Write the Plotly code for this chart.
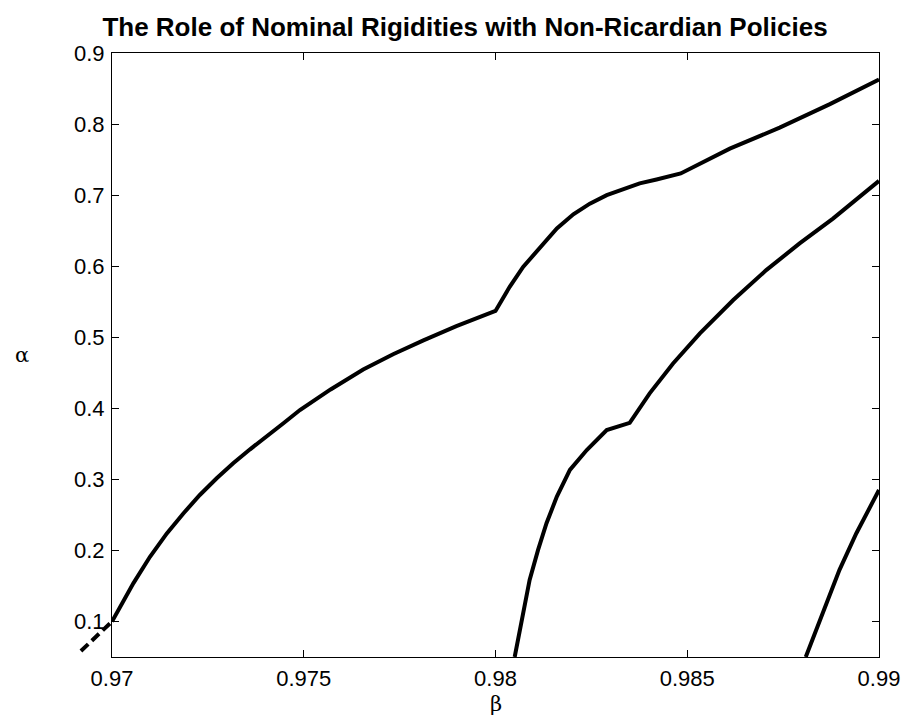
import plotly.graph_objects as go

# ---- data ----
beta_1 = [0.97, 0.97056, 0.97099, 0.97143, 0.97186, 0.97229, 0.97273, 0.97316, 0.97360,
          0.97403, 0.97447, 0.97490, 0.97570, 0.97655, 0.97733, 0.97812, 0.97898, 0.98000,
          0.98037, 0.98072, 0.98116, 0.98160, 0.98203, 0.98246, 0.98290, 0.98333,
          0.98376, 0.98420, 0.98483, 0.98611, 0.98741, 0.98872, 0.99000]
alpha_1 = [0.100, 0.154, 0.191, 0.224, 0.252, 0.278, 0.3015, 0.3226, 0.3423,
           0.360, 0.379, 0.3976, 0.4265, 0.4545, 0.476, 0.4955, 0.5155, 0.537,
           0.571, 0.599, 0.627, 0.653, 0.673, 0.688, 0.700, 0.709,
           0.7165, 0.722, 0.7305, 0.7654, 0.795, 0.828, 0.8627]

beta_2 = [0.98050, 0.98072, 0.98089, 0.98111, 0.98133, 0.98160, 0.98194, 0.98238,
          0.98290, 0.98350, 0.98402, 0.98463, 0.98533, 0.98620, 0.98706, 0.98793,
          0.98880, 0.99000]
alpha_2 = [0.050, 0.1117, 0.1585, 0.2007, 0.2383, 0.2757, 0.3132, 0.3413,
           0.3695, 0.3795, 0.421, 0.463, 0.5055, 0.5523, 0.5945, 0.632,
           0.667, 0.720]

beta_3 = [0.98809, 0.98854, 0.98897, 0.98941, 0.99000]
alpha_3 = [0.050, 0.1117, 0.1726, 0.2242, 0.285]

beta_dash = [0.96919, 0.97000]
alpha_dash = [0.0584, 0.100]

x_ticks = [0.97, 0.975, 0.98, 0.985, 0.99]
x_tick_labels = ["0.97", "0.975", "0.98", "0.985", "0.99"]
y_ticks = [0.1, 0.2, 0.3, 0.4, 0.5, 0.6, 0.7, 0.8, 0.9]
y_tick_labels = ["0.1", "0.2", "0.3", "0.4", "0.5", "0.6", "0.7", "0.8", "0.9"]

title_text = "The Role of Nominal Rigidities with Non-Ricardian Policies"
x_label = "β"
y_label = "α"

# ---- layout geometry ----
W, H = 903, 719
ML, MR, MT, MB = 60, 24, 53, 62
plot_w = W - ML - MR
plot_h = H - MT - MB
axis_left_px = 112
x_dom_start = (axis_left_px - ML) / plot_w
x_range = [0.97, 0.99]
# second axis spanning a wider domain with the same scale (for the unclipped dashed piece)
x2_low = x_range[1] - (x_range[1] - x_range[0]) / (1 - x_dom_start)

line_style = dict(color="black", width=4)
tick_font = dict(family="Liberation Sans, Arial, sans-serif", size=22, color="black")
greek_font = dict(family="DejaVu Serif, serif", size=21, color="black")

fig = go.Figure()
fig.add_trace(go.Scatter(x=beta_dash, y=alpha_dash, mode="lines", xaxis="x2", yaxis="y",
                         line=dict(color="black", width=4, dash="10px,5px"), showlegend=False))
fig.add_trace(go.Scatter(x=beta_1, y=alpha_1, mode="lines", line=line_style, showlegend=False))
fig.add_trace(go.Scatter(x=beta_2, y=alpha_2, mode="lines", line=line_style, showlegend=False))
fig.add_trace(go.Scatter(x=beta_3, y=alpha_3, mode="lines", line=line_style, showlegend=False))

axis_common = dict(showline=True, linecolor="black", linewidth=1, mirror="ticks",
                   ticks="inside", ticklen=7, tickcolor="black", tickwidth=1,
                   showgrid=False, zeroline=False, tickfont=tick_font, automargin=False)

fig.update_layout(
    template="none",
    width=W, height=H,
    margin=dict(l=ML, r=MR, t=MT, b=MB, autoexpand=False),
    paper_bgcolor="white", plot_bgcolor="rgba(0,0,0,0)",
    title=dict(text="<b>" + title_text + "</b>", x=465 / W, xanchor="center",
               y=1 - 27 / H, yanchor="middle",
               font=dict(family="Liberation Sans, Arial, sans-serif", size=26, color="black")),
    xaxis=dict(domain=[x_dom_start, 1], range=x_range, tickvals=x_ticks, ticktext=x_tick_labels,
               ticklabelstandoff=2, **axis_common),
    yaxis=dict(domain=[0, 1], range=[0.05, 0.9], tickvals=y_ticks, ticktext=y_tick_labels,
               ticklabelstandoff=2, anchor="x", **axis_common),
    xaxis2=dict(domain=[0, 1], range=[x2_low, x_range[1]], anchor="y",
                visible=False, fixedrange=True, automargin=False),
    annotations=[
        dict(text=y_label, xref="paper", yref="paper", x=(22 - ML) / plot_w, y=0.5,
             xanchor="center", yanchor="middle", showarrow=False, font=greek_font),
        dict(text=x_label, xref="paper", yref="paper",
             x=(x_dom_start + 1) / 2, y=-(704 - (H - MB)) / plot_h,
             xanchor="center", yanchor="middle", showarrow=False, font=greek_font,
             borderpad=0),
    ],
)

fig.write_html("out.html")
